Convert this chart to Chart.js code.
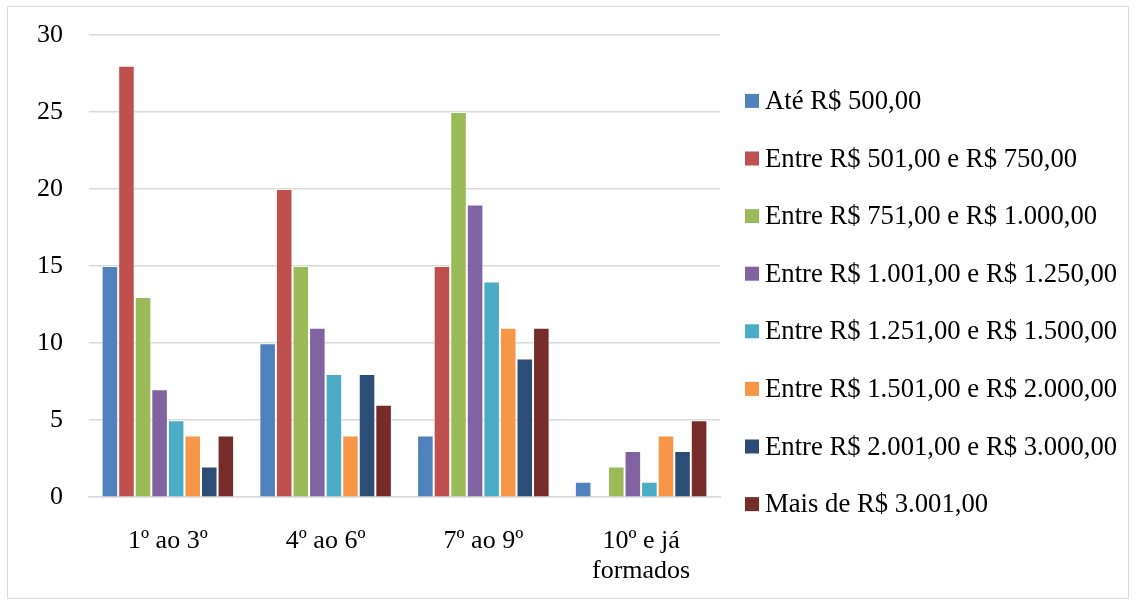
<!DOCTYPE html>
<html>
<head>
<meta charset="utf-8">
<script src="https://cdn.jsdelivr.net/npm/chart.js@4/dist/chart.umd.min.js"></script>
<style>
  html, body { margin: 0; padding: 0; background: #ffffff; }
  #frame {
    position: absolute; left: 7px; top: 6px;
    width: 1122px; height: 593px;
    border: 1px solid #d9d9d9; box-sizing: border-box;
  }
  #frame canvas { display: block; }
</style>
</head>
<body>
<div id="frame"><canvas id="chart"></canvas></div>
<script>
// Período do curso
const categories = ['1º ao 3º', '4º ao 6º', '7º ao 9º', ['10º e já', 'formados']];

// Faixas de renda
const seriesNames = [
  'Até R$ 500,00',
  'Entre R$ 501,00 e R$ 750,00',
  'Entre R$ 751,00 e R$ 1.000,00',
  'Entre R$ 1.001,00 e R$ 1.250,00',
  'Entre R$ 1.251,00 e R$ 1.500,00',
  'Entre R$ 1.501,00 e R$ 2.000,00',
  'Entre R$ 2.001,00 e R$ 3.000,00',
  'Mais de R$ 3.001,00'
];

// Quantidade de respostas por faixa, em cada período
const ate500      = [15, 10, 4, 1];
const de501a750   = [28, 20, 15, 0];
const de751a1000  = [13, 15, 25, 2];
const de1001a1250 = [7, 11, 19, 3];
const de1251a1500 = [5, 8, 14, 1];
const de1501a2000 = [4, 4, 11, 4];
const de2001a3000 = [2, 8, 9, 3];
const maisDe3001  = [4, 6, 11, 5];

const yTicks = [0, 5, 10, 15, 20, 25, 30];

const seriesValues = [ate500, de501a750, de751a1000, de1001a1250,
                      de1251a1500, de1501a2000, de2001a3000, maisDe3001];
const colors = ['#4F81BD', '#C0504D', '#9BBB59', '#8064A2',
                '#4BACC6', '#F79646', '#2C4D75', '#772C2A'];

const fontFamily = '"Liberation Serif", "Times New Roman", serif';
const font = { family: fontFamily, size: 26, lineHeight: 1.15 };
const legendFontSize = 26.7;

// Legend in a single column to the right of the plot, vertically centred on the canvas
const sideLegend = {
  id: 'sideLegend',
  afterDraw(chart) {
    const ctx = chart.ctx;
    const items = chart.data.datasets;
    const step = 57.6;
    const box = 14;
    const x = chart.chartArea.right + 25;
    const y0 = chart.height / 2 - (items.length - 1) / 2 * step;
    ctx.save();
    ctx.font = `${legendFontSize}px ${fontFamily}`;
    ctx.textBaseline = 'middle';
    ctx.textAlign = 'left';
    items.forEach((ds, i) => {
      const cy = y0 + i * step;
      ctx.fillStyle = ds.backgroundColor;
      ctx.fillRect(x, cy - box / 2, box, box);
      ctx.fillStyle = '#000000';
      ctx.fillText(ds.label, x + box + 6, cy + 1);
    });
    ctx.restore();
  }
};

new Chart(document.getElementById('chart'), {
  type: 'bar',
  data: {
    labels: categories,
    datasets: seriesNames.map((name, i) => ({
      label: name,
      data: seriesValues[i],
      backgroundColor: colors[i],
      borderColor: 'rgba(255,255,255,0.55)',
      borderWidth: 1,
      categoryPercentage: 0.84,
      barPercentage: 1.0
    }))
  },
  options: {
    responsive: true,
    maintainAspectRatio: false,
    animation: false,
    layout: { padding: { left: 3, top: 28, right: 408, bottom: -17 } },
    plugins: {
      tooltip: { enabled: false },
      legend: { display: false }
    },
    scales: {
      x: {
        grid: { display: false, drawTicks: false },
        border: { display: true, color: '#d9d9d9', width: 1.5 },
        ticks: { font: font, color: '#000000', padding: 29, maxRotation: 0 }
      },
      y: {
        min: 0,
        max: 30,
        afterBuildTicks: axis => { axis.ticks = yTicks.map(v => ({ value: v })); },
        // the top label's overhang is left to the layout padding
        afterFit: axis => { axis.paddingTop = 0; axis.paddingBottom = 0; },
        grid: { color: '#d9d9d9', lineWidth: 1.5, drawTicks: false },
        border: { display: false },
        ticks: { font: font, color: '#000000', padding: 26 }
      }
    }
  },
  plugins: [sideLegend]
});
</script>
</body>
</html>
